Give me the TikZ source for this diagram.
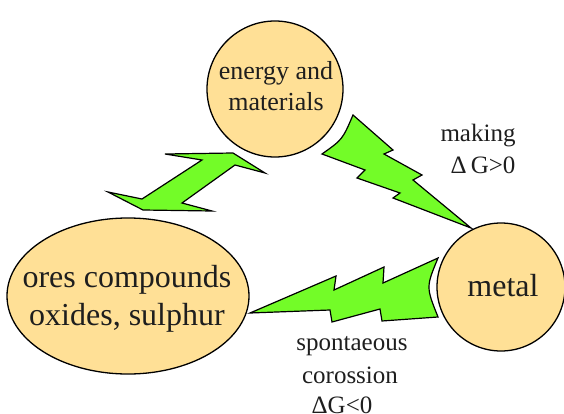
\documentclass[tikz,border=0pt]{standalone}
\usepackage{fontspec}
\setmainfont{Liberation Serif}
\usetikzlibrary{shapes.geometric}
\definecolor{orb}{RGB}{255,224,150}
\definecolor{bolt}{RGB}{115,252,40}
\definecolor{txt}{RGB}{30,30,30}
\tikzset{
  orbit/.style={draw=black, line width=1.3pt, fill=orb},
  boltshape/.style={draw=black, line width=1.2pt, fill=bolt, line join=miter},
  bigtxt/.style={font=\fontsize{32}{35}\selectfont, text=txt, inner sep=0pt},
  midtxt/.style={font=\fontsize{26}{29}\selectfont, text=txt, inner sep=0pt},
  lbltxt/.style={font=\fontsize{25}{28}\selectfont, text=txt, inner sep=0pt}
}
\begin{document}
\begin{tikzpicture}[x=1pt,y=-1pt]
\useasboundingbox (0,0) rectangle (564,414);
% circles
\node[orbit, circle, minimum size=136pt, inner sep=0pt] (energy) at (275,89) {};
\node[orbit, circle, minimum size=128pt, inner sep=0pt] (metal) at (501,287) {};
\node[orbit, ellipse, minimum width=242pt, minimum height=156pt, inner sep=0pt] (ores) at (128,296) {};
% texts
\node[midtxt] (t1) at (276,73) {energy and};
\node[midtxt] (t2) at (276,102) {materials};
\node[bigtxt] (t3) at (503,286) {metal};
\node[bigtxt] (t4) at (127,280) {ores compounds};
\node[bigtxt] (t5) at (127,318) {oxides, sulphur};
\node[lbltxt] (l1) at (478,136) {making};
\node[lbltxt] (l2) at (483,165) {Δ\,G>0};
\node[lbltxt] (l3) at (352,346) {spontaeous};
\node[lbltxt] (l4) at (350,375) {corossion};
\node[lbltxt] (l5) at (342,405) {ΔG<0};
% bolt: energy -> metal
\draw[boltshape] (353,115) -- (393,150) -- (384,154) -- (422,175) -- (413,180) -- (471,228)
  -- (393,198) -- (400,193) -- (357,178) -- (365,170) -- (322,154)
  .. controls (342.5,139.5) .. (353,115) -- cycle;
% bolt: metal -> ores
\draw[boltshape] (250,313) -- (336,276) -- (334,290) -- (384,267) -- (383,283) -- (438,258)
  .. controls (426,287) .. (438,317)
  -- (382,321) -- (380,309) -- (332,322) -- (330,310) -- cycle;
% double arrow: ores <-> energy
\draw[boltshape] (165,154) -- (233,153) -- (265,173) -- (235,165) -- (182,203) -- (212,211)
  -- (143,210) -- (108,192) -- (142,199) -- (202,160) -- cycle;
\end{tikzpicture}
\end{document}
